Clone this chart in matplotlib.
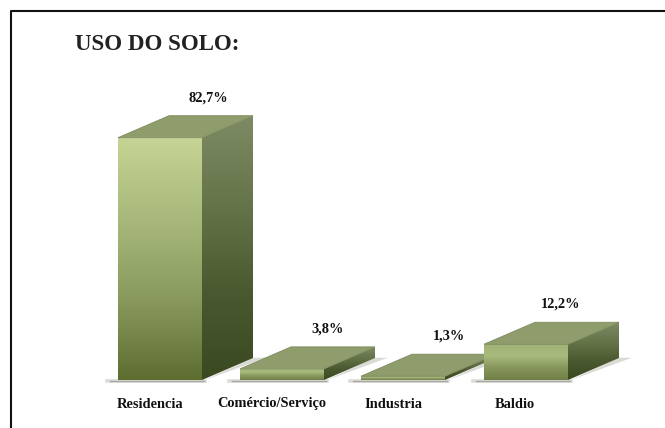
import matplotlib
matplotlib.use('Agg')
import matplotlib.pyplot as plt
import numpy as np
from matplotlib.colors import LinearSegmentedColormap
from matplotlib.patches import Polygon

categorias = ['Residencia', 'Comércio/Serviço', 'Industria', 'Baldio']
valores = [82.7, 3.8, 1.3, 12.2]
rotulos = ['82,7%', '3,8%', '1,3%', '12,2%']

W, H = 665, 428
BASE = 380      # linha do chão, em pixels
ESCALA = 2.93   # pixels por ponto percentual
LARG = 84
DX, DY = 51, 22
esquerda = [118, 240, 361, 484]
x_categoria = [150, 272, 393, 515]
x_rotulo = [208, 328, 449, 561]

frente = LinearSegmentedColormap.from_list('frente', ['#c6d495', '#a8b97b', '#8a9a5e', '#5e6d30'])
frente_baixa = LinearSegmentedColormap.from_list('frente_baixa', ['#a3b378', '#a9ba7d', '#86965c', '#6f7f46'])
lado = LinearSegmentedColormap.from_list('lado', ['#7d8a63', '#66744a', '#4b5930', '#3b4920'])
topo = '#8f9d6d'

plt.rcParams['font.family'] = ['Liberation Serif', 'DejaVu Serif']

fig = plt.figure(figsize=(W / 100, H / 100), dpi=100)
ax = fig.add_axes([0, 0, 1, 1])
ax.set_xlim(0, W)
ax.set_ylim(-(H - BASE) / ESCALA, BASE / ESCALA)
ax.axis('off')


def gradiente(pontos, cmap, extent, z):
    # preenche um polígono com um degradê vertical recortado
    grad = np.linspace(0, 1, 128)[:, None]
    im = ax.imshow(grad, cmap=cmap, extent=extent, origin='upper', aspect='auto', zorder=z)
    poly = Polygon(pontos, closed=True, transform=ax.transData, fc='none', ec='none')
    ax.add_patch(poly)
    im.set_clip_path(poly)


dy = DY / ESCALA
for i, (x0, v) in enumerate(zip(esquerda, valores)):
    z = 2 + i * 0.1
    x1 = x0 + LARG

    # sombra no chão
    ax.plot([x0 - 11, x1 + 3], [-0.45, -0.45], color='#dcdcd8', lw=2.6, zorder=1)
    ax.plot([x0 - 8, x1 + 2], [-0.3, -0.3], color='#a9a9a1', lw=1.0, zorder=1)
    ax.add_patch(Polygon([(x1, -0.4), (x1 + DX + 13, dy + 0.1), (x1 + DX, dy + 0.1)],
                         closed=True, fc='#dadad6', ec='none', zorder=1))

    # faces da barra
    cmap = frente if v > 50 else frente_baixa
    gradiente([(x0, 0), (x1, 0), (x1, v), (x0, v)], cmap, (x0, x1, 0, v), z)
    gradiente([(x1, 0), (x1 + DX, dy), (x1 + DX, v + dy), (x1, v)], lado,
              (x1, x1 + DX, 0, v + dy), z)
    ax.add_patch(Polygon([(x0, v), (x1, v), (x1 + DX, v + dy), (x0 + DX, v + dy)],
                         closed=True, fc=topo, ec='#7f8c60', lw=0.6, zorder=z))

    ax.text(x_rotulo[i], v + dy + 18 / ESCALA, rotulos[i], ha='center', va='center',
            fontsize=10.4, fontweight='bold', color='#111111', zorder=5)
    ax.text(x_categoria[i], -24 / ESCALA, categorias[i], ha='center', va='center',
            fontsize=10.4, fontweight='bold', color='#111111')

# moldura (só esquerda e topo) e título
ax.plot([11, 11, W], [-(H - BASE) / ESCALA, (BASE - 11) / ESCALA, (BASE - 11) / ESCALA],
        color='#111111', lw=1.5, zorder=6)
ax.text(75, (BASE - 45) / ESCALA, 'USO DO SOLO:', fontsize=16.5, fontweight='bold',
        color='#222222', va='center')

fig.savefig('out.png', dpi=100)
